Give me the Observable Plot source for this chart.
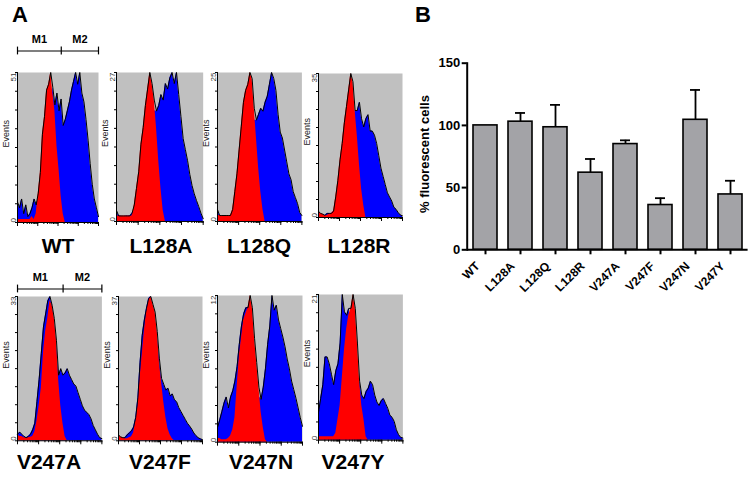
<!DOCTYPE html>
<html><head><meta charset="utf-8">
<script src="https://cdn.jsdelivr.net/npm/d3@7"></script>
<script src="https://cdn.jsdelivr.net/npm/@observablehq/plot@0.6"></script>
<style>
body{margin:0;background:#fff;}
#fig{position:relative;width:752px;height:481px;overflow:hidden;font-family:"Liberation Sans",Arial,sans-serif;background:#fff;}
.ttl{position:absolute;font-weight:bold;font-size:21px;line-height:1;white-space:nowrap;transform:translateX(-50%);color:#000;}
.pnl{position:absolute;font-weight:bold;font-size:22px;line-height:1;color:#000;}
.ylab{position:absolute;font-weight:bold;font-size:13px;line-height:1;white-space:nowrap;color:#000;transform:translate(-50%,-50%) rotate(-90deg);}
.barB [aria-label="y-axis tick label"]{font-size:13px;}
</style></head>
<body><div id="fig"></div>
<script>
// ---------- data ----------
const mutants = ["WT", "L128A", "L128Q", "L128R", "V247A", "V247F", "V247N", "V247Y"];
const percentFluorescent = [100, 103, 98.5, 62, 85, 36, 104.5, 44.5];
const semUpper = [0, 7, 18, 11, 3, 5.5, 24, 11];
const percentTicks = [0, 50, 100, 150];
const yLabel = "% fluorescent cells";
const eventsMax = [51, 27, 25, 35, 33, 37, 12, 21];
const gateNames = ["M1", "M2"];
const gateEdges = [1, 145, 10000];

// histogram counts per channel bin (red = control, blue = sample)
const redWT = [1,1,1,1,1,1,1,2,1,3, 10,17,30,36,45,47,51,44,38,26, 18,9,3,0,0,0,0,0,0,0, 0,0,0,0,0,0,0,0,0,0];
const blueWT = [7,5,8,3,6,2,3,5,8,6, 8,12,18,24,30,36,40,46,40,44, 38,42,33,35,38,41,45,48,51,47, 51,44,41,35,28,20,13,8,5,2];
const redL128A = [1,1,1,1,1,1,1,1,3,6, 9,14,17,21,24,27,25,22,17,11, 6,2,0,0,0,0,0,0,0,0, 0,0,0,0,0,0,0,0,0,0];
const blueL128A = [2,1,1,0.5,1,1,1,1.5,2,3, 6,9,12,15,17,18,19,20,20,21, 23,22,25,24,26,27,25,27,23,19, 15,13,11,8.5,6.5,5,3.8,2.7,1.5,0.5];
const redL128Q = [1,1,1,1,1,1,1,2,5,8, 12,16,20,22,23,25,24,19,14,9, 5,2,0,0,0,0,0,0,0,0, 0,0,0,0,0,0,0,0,0,0];
const blueL128Q = [2,1,0.5,0.5,1,1,1,1.5,2,3, 6,9,12,14,15,16,16.5,17,17,18, 19,18.5,20,21,23,25,24,22,18,15, 14,12,10,8,7,5,4,3,1.5,1];
const redL128R = [1.5,1,0.8,0.5,0.5,0.8,1,1.5,5,9, 14,18,23,27,31,35,33,26,20,13, 7,3,0,0,0,0,0,0,0,0, 0,0,0,0,0,0,0,0,0,0];
const blueL128R = [1,0.5,0.5,0.5,1,1,1,1.5,2,3, 5,8,11,14,17,20,23,26,26,28, 24,22,24,25,21,21,20,18,15,12, 10,8,6,5,4,2.5,2,1.2,0.6,0.4];
const redV247A = [1.5,1,1,0.7,0.7,0.7,0.8,1,2,4.5, 8,12,20,25,28,32,31,28,23,14, 8,4,1,0,0,0,0,0,0,0, 0,0,0,0,0,0,0,0,0,0];
const blueV247A = [1,2,1.5,1,0.7,1,1.5,2.5,4,9, 14,20,26,29,32,33,31,27,22,15, 16.5,15,15.5,16.5,15,14,13,12.5,11,9.5, 8,7,6.5,6,5,3.5,2.5,1.5,0.7,0.5];
const redV247F = [1.5,1,0.8,0.5,0.5,0.8,1,2,5,9, 16,22,28,33,36,37,35,33,28,20, 15,10,6,3,1.5,0.5,0,0,0,0, 0,0,0,0,0,0,0,0,0,0];
const blueV247F = [1,0.5,0.3,0.8,1.5,2,2.5,3.5,6,11, 20,27,31,34,36.5,37,34,31,27,21, 16,14.5,13,13.5,11.5,12,10.5,10,8.5,7.5, 6.5,5.5,4.5,3.8,3,2,1.3,0.8,0.5,0.3];
const redV247N = [0.3,0.3,0.2,0.2,0.2,0.3,0.5,1,2,4.5, 7,8.5,10,10.5,11,12,11,8.5,6.5,4.5, 2.5,1.2,0.2,0,0,0,0,0,0,0, 0,0,0,0,0,0,0,0,0,0];
const blueV247N = [1.2,1.8,2.5,3.2,3.7,2.8,3.7,4.2,5,6.2, 8,9.5,10.5,11,11,11.5,10,7.5,5,3.8, 3.5,4.5,6,8,9.5,12,10.8,11.2,10,9.3, 8.6,7.8,6.8,6,5,4.3,3.6,2.8,2,1.3];
const redV247Y = [0.5,0.5,0.5,0.5,0.5,0.5,0.5,0.5,1,3, 5,9,13,16,18,19,21,19,14,8.5, 5,3,0.5,0,0,0,0,0,0,0, 0,0,0,0,0,0,0,0,0,0];
const blueV247Y = [4,6,8,12,12,11,9.5,8,10,11, 14,21,18.5,18,19,17,15,12,9,8.5, 6.5,6,7,7.5,8.5,8,6.5,5.5,5,5.7, 6,5.3,4.6,3.6,3.3,2.7,1.5,0.8,0.4,0.3];

const redSeries = [redWT, redL128A, redL128Q, redL128R, redV247A, redV247F, redV247N, redV247Y];
const blueSeries = [blueWT, blueL128A, blueL128Q, blueL128R, blueV247A, blueV247F, blueV247N, blueV247Y];

// ---------- layout (positions only) ----------
const FONT = '"Liberation Sans", Arial, sans-serif';
const boxes = [
  {l:17.3, t:71.7, w:81, h:150}, {l:116, t:71.7, w:86.7, h:149},
  {l:217.3, t:71.7, w:84.4, h:149}, {l:317.7, t:72.7, w:84, h:144},
  {l:17.3, t:295.7, w:84.4, h:144.3}, {l:118.3, t:295.7, w:84, h:144.3},
  {l:216.7, t:295, w:85, h:146.7}, {l:318.3, t:294.3, w:84.4, h:145.7}
];
const titlePos = [[58,235],[161,235],[259,235],[359,235],[49,451],[160,451],[261,451],[353,451]];
const gateRows = [{panel:0, lineY:50}, {panel:4, lineY:288.3}];

const fig = document.getElementById("fig");
function place(node, left, top) {
  node.style.position = "absolute"; node.style.left = left + "px"; node.style.top = top + "px";
  fig.appendChild(node);
}
function addText(cls, txt, left, top) {
  const d = document.createElement("div"); d.className = cls; d.textContent = txt;
  d.style.left = left + "px"; d.style.top = top + "px"; fig.appendChild(d);
}

function histogram(red, blue, ymax, box) {
  const n = red.length;
  const bins = red.map((r, i) => ({ch: Math.pow(10, 4 * i / (n - 1)), red: r, blue: blue[i], top: Math.max(r, blue[i])}));
  const ml = 22, mr = 1, mt = 2, mb = 7;
  const svg = Plot.plot({
    width: box.w + ml + mr, height: box.h + mt + mb,
    marginLeft: ml, marginRight: mr, marginTop: mt, marginBottom: mb,
    x: {type: "log", domain: [1, 1e4], label: null},
    y: {domain: [0, ymax], label: null},
    style: {background: "transparent", overflow: "visible", fontFamily: FONT},
    marks: [
      Plot.frame({fill: "#c0c0c0", stroke: "none"}),
      Plot.areaY(bins, {x: "ch", y: "blue", fill: "#0000ff"}),
      Plot.areaY(bins, {x: "ch", y: "red", fill: "#ff0000"}),
      Plot.lineY(bins, {x: "ch", y: "top", stroke: "#000", strokeWidth: 1}),
      Plot.ruleX([1], {stroke: "#000"}),
      Plot.ruleY([0], {stroke: "#000"}),
      Plot.axisX({ticks: 40, tickSize: 2, tickFormat: () => "", label: null}),
      Plot.axisX({ticks: [1, 10, 100, 1000, 10000], tickSize: 4, tickFormat: () => "", label: null}),
      Plot.axisY({ticks: d3.range(9).map(k => ymax * k / 8), tickSize: 2, tickFormat: () => "", label: null}),
      Plot.text([0], {y: d => d, frameAnchor: "left", dx: -4, rotate: -90, text: d => String(d), fontSize: 8, fill: "#333"}),
      Plot.text([ymax], {y: d => d, frameAnchor: "left", dx: -4, rotate: -90, textAnchor: "end", text: d => String(d), fontSize: 8, fill: "#333"}),
      Plot.text(["Events"], {frameAnchor: "left", dx: -11, rotate: -90, text: d => d, fontSize: 9, fill: "#222"})
    ]
  });
  place(svg, box.l - ml, box.t - mt);
}

function gates(box, lineY) {
  const gateData = gateNames.map((name, i) => ({name, x1: gateEdges[i], x2: gateEdges[i + 1]}));
  const h = 26;
  const svg = Plot.plot({
    width: box.w + 2, height: h, marginLeft: 1, marginRight: 1, marginTop: 0, marginBottom: 0,
    x: {type: "log", domain: [1, 1e4], axis: null},
    y: {domain: [0, 1], axis: null},
    style: {background: "transparent", overflow: "visible", fontFamily: FONT},
    marks: [
      Plot.link(gateData, {x1: "x1", x2: "x2", y1: 0.25, y2: 0.25, stroke: "#000", strokeWidth: 1.2}),
      Plot.ruleX(gateEdges, {y1: 0.1, y2: 0.4, stroke: "#000", strokeWidth: 1.2}),
      Plot.text(gateData, {x: d => Math.sqrt(d.x1 * d.x2), y: 0.7, text: "name", fontWeight: "bold", fontSize: 11, fill: "#000"})
    ]
  });
  place(svg, box.l - 1, lineY - 0.75 * h);
}

mutants.forEach((m, i) => {
  histogram(redSeries[i], blueSeries[i], eventsMax[i], boxes[i]);
  addText("ttl", m, titlePos[i][0], titlePos[i][1]);
});
gateRows.forEach(g => gates(boxes[g.panel], g.lineY));

// ---------- panel B ----------
const bars = mutants.map((m, i) => ({mutant: m, pct: percentFluorescent[i], err: semUpper[i]}));
const withErr = bars.filter(d => d.err > 0);
const barSvg = Plot.plot({
  className: "barB",
  width: 372, height: 262,
  marginLeft: 86.7, marginRight: 4.4, marginTop: 22.7, marginBottom: 52.7,
  x: {domain: mutants, paddingInner: 0.32, paddingOuter: 0.15, label: null},
  y: {domain: [0, 150], label: null},
  style: {background: "transparent", overflow: "visible", fontFamily: FONT, fontWeight: "bold", color: "#000", fontSize: "13px"},
  marks: [
    Plot.ruleX(withErr, {x: "mutant", y1: "pct", y2: d => d.pct + d.err, stroke: "#000", strokeWidth: 1.8}),
    Plot.tickY(withErr, {x: "mutant", y: d => d.pct + d.err, stroke: "#000", strokeWidth: 1.8, insetLeft: 7, insetRight: 7}),
    Plot.barY(bars, {x: "mutant", y: "pct", fill: "#a3a3a7", stroke: "#000", strokeWidth: 1.6}),
    Plot.ruleY([0], {stroke: "#000", strokeWidth: 2}),
    Plot.frame({anchor: "left", stroke: "#000", strokeWidth: 2}),
    Plot.axisY({ticks: percentTicks, tickSize: 5, tickPadding: 2, strokeWidth: 2, label: null}),
    Plot.axisX({tickSize: 5, strokeWidth: 2, tickFormat: () => "", label: null}),
    Plot.text(bars, {x: "mutant", frameAnchor: "bottom", text: "mutant", rotate: -45, textAnchor: "end", dx: -5, dy: 17, fontSize: 12, fontWeight: "bold", fill: "#000"})
  ]
});
place(barSvg, 380, 40);
addText("ylab", yLabel, 424, 154);

addText("pnl", "A", 12, 4);
addText("pnl", "B", 415, 4);
</script>
</body></html>
